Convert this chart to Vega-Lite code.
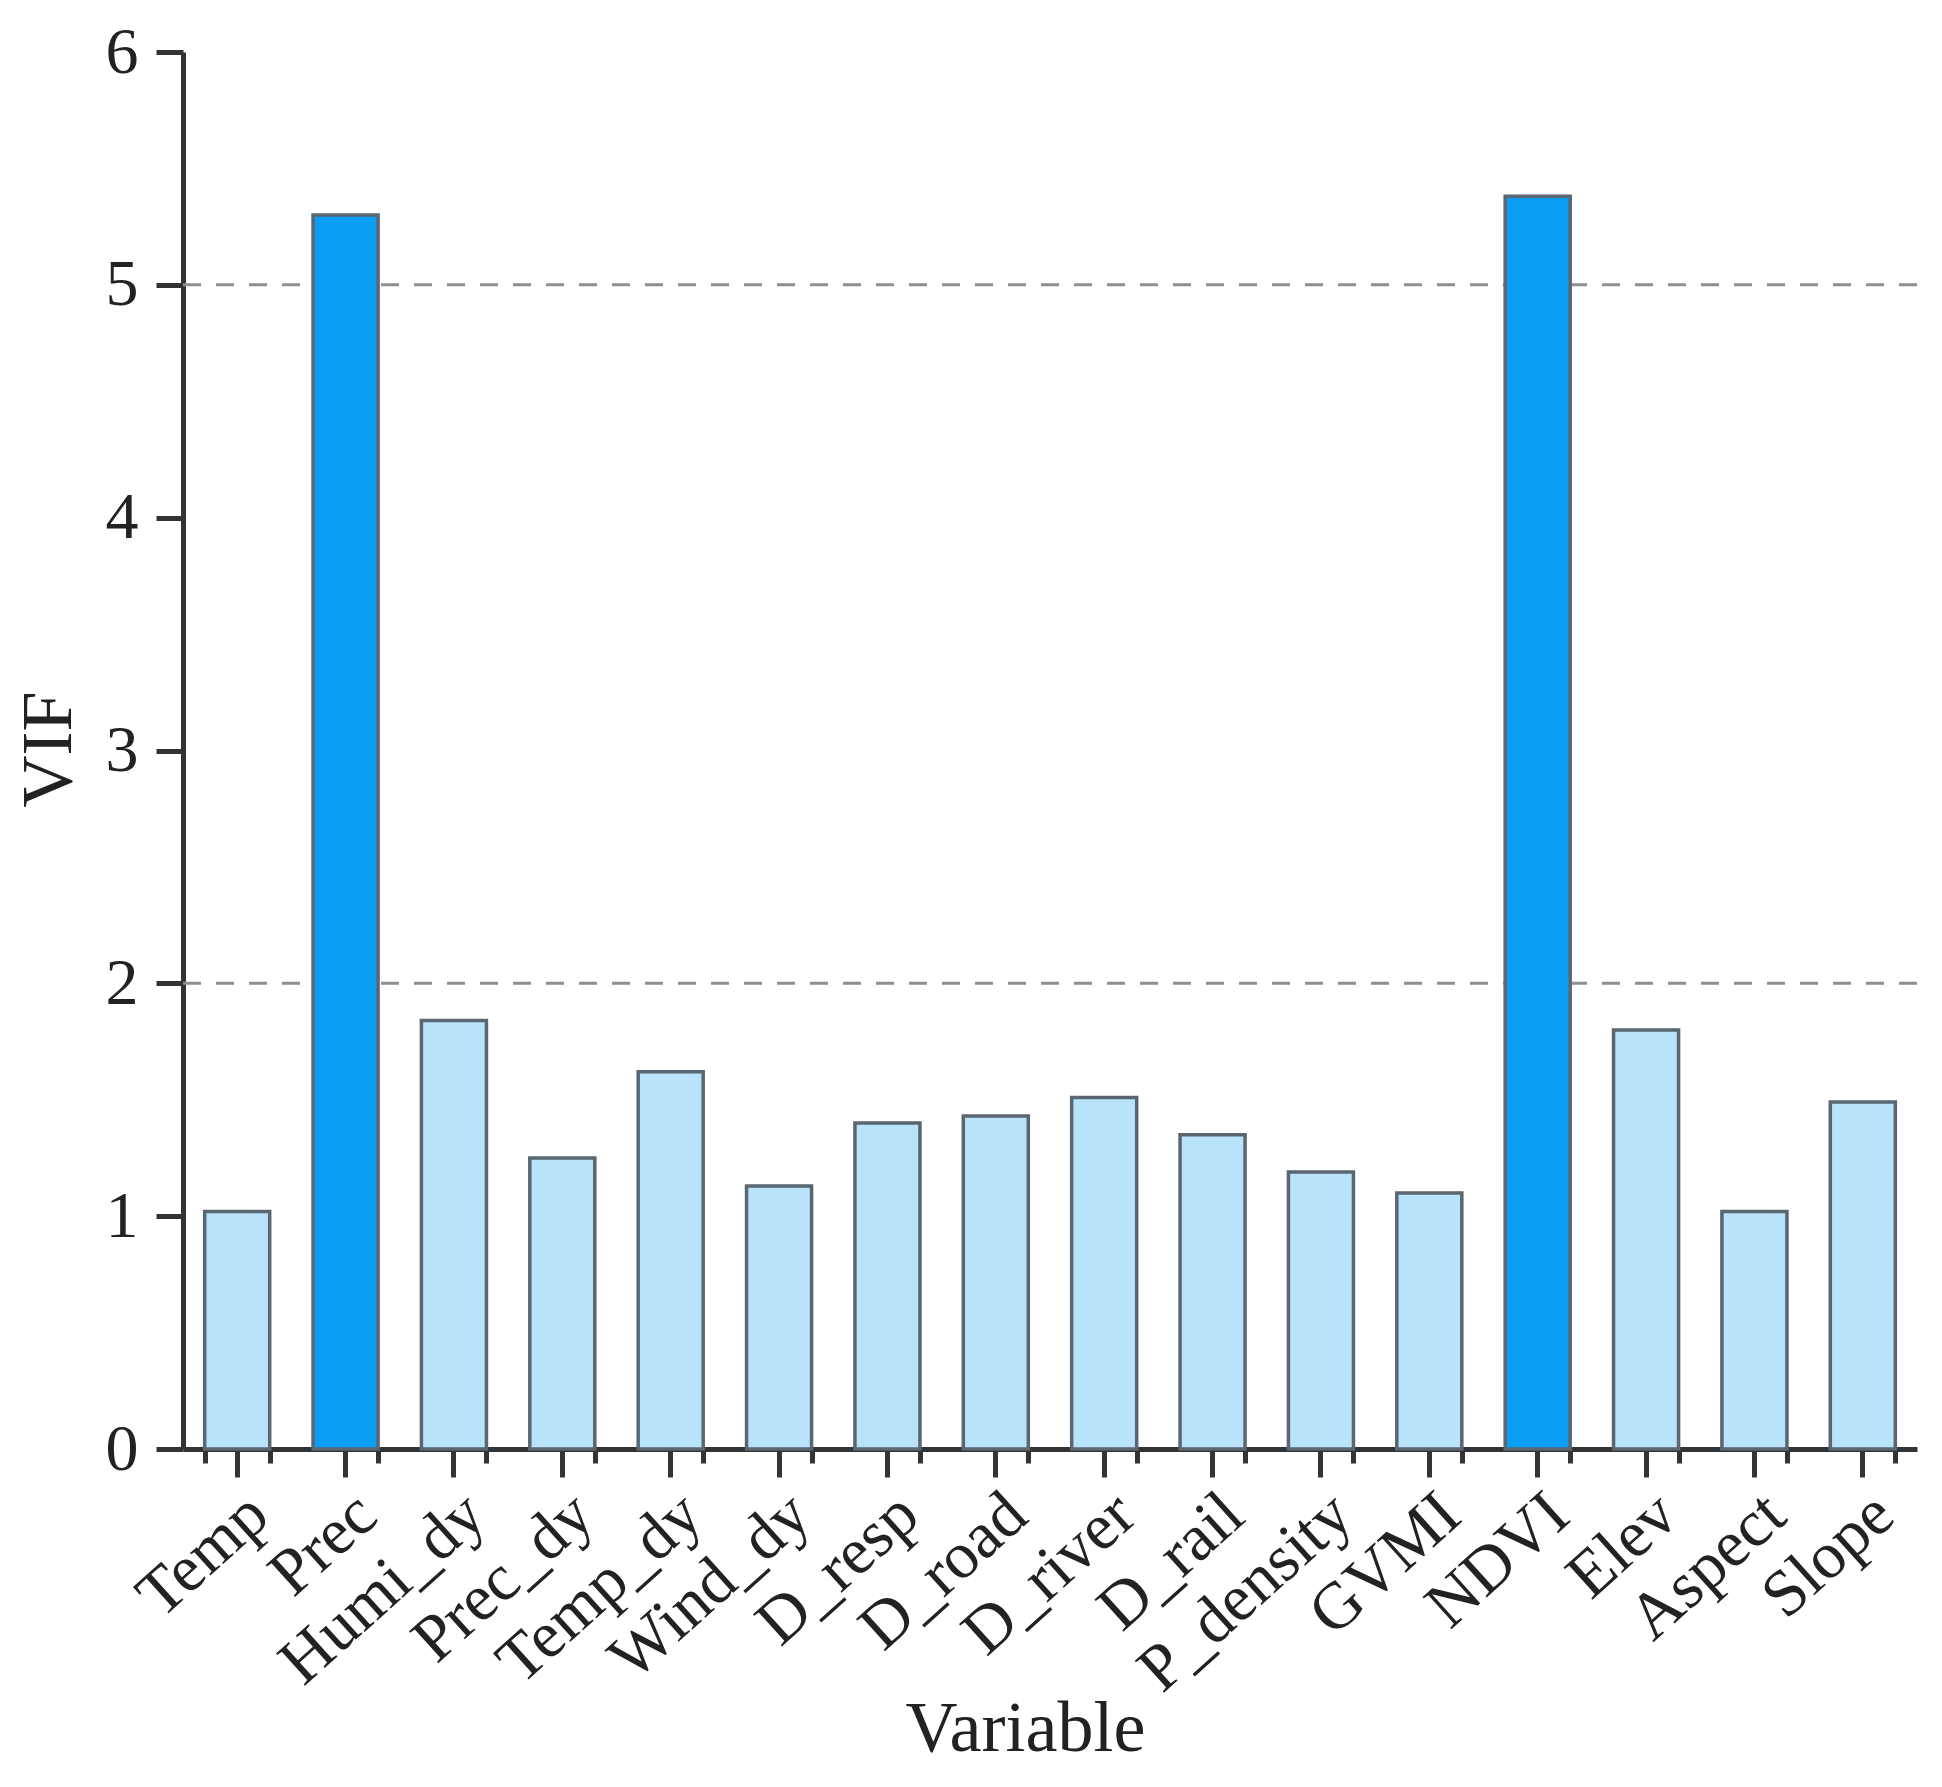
{
  "$schema": "https://vega.github.io/schema/vega-lite/v6.json",
  "width": 1734,
  "height": 1397,
  "autosize": "none",
  "padding": {"left": 183, "top": 52, "right": 25, "bottom": 338},
  "background": "white",
  "config": {
    "view": {"stroke": null},
    "font": "Liberation Serif",
    "axis": {"grid": false, "labelFont": "Liberation Serif", "titleFont": "Liberation Serif", "labelColor": "#222", "titleColor": "#222", "domainColor": "#333", "tickColor": "#333", "titleFontWeight": "normal"}
  },
  "datasets": {
    "vif": [
      {"Variable": "Temp", "VIF": 1.02},
      {"Variable": "Prec", "VIF": 5.30},
      {"Variable": "Humi_dy", "VIF": 1.84},
      {"Variable": "Prec_dy", "VIF": 1.25},
      {"Variable": "Temp_dy", "VIF": 1.62},
      {"Variable": "Wind_dy", "VIF": 1.13},
      {"Variable": "D_resp", "VIF": 1.40},
      {"Variable": "D_road", "VIF": 1.43},
      {"Variable": "D_river", "VIF": 1.51},
      {"Variable": "D_rail", "VIF": 1.35},
      {"Variable": "P_density", "VIF": 1.19},
      {"Variable": "GVMI", "VIF": 1.10},
      {"Variable": "NDVI", "VIF": 5.38},
      {"Variable": "Elev", "VIF": 1.80},
      {"Variable": "Aspect", "VIF": 1.02},
      {"Variable": "Slope", "VIF": 1.49}
    ],
    "thresholds": [{"t": 2}, {"t": 5}]
  },
  "resolve": {"axis": {"x": "independent", "y": "independent"}},
  "layer": [
    {
      "data": {"name": "thresholds"},
      "mark": {"type": "rule", "color": "#8f8f8f", "strokeWidth": 3, "strokeDash": [18, 15]},
      "encoding": {
        "y": {"field": "t", "type": "quantitative", "scale": {"domain": [0, 6], "nice": false}, "axis": null}
      }
    },
    {
      "data": {"name": "vif"},
      "mark": {"type": "bar", "stroke": "#5a6670", "strokeWidth": 3.5},
      "encoding": {
        "x": {
          "field": "Variable", "type": "nominal", "sort": null,
          "scale": {"paddingInner": 0.4, "paddingOuter": 0.2},
          "axis": {"orient": "bottom", "title": null, "labels": false, "domain": false, "tickBand": "extent", "tickSize": 14, "tickWidth": 5}
        },
        "y": {"field": "VIF", "type": "quantitative", "scale": {"domain": [0, 6], "nice": false}, "axis": null},
        "color": {"condition": {"test": "datum.VIF > 5", "value": "#0A9DF4"}, "value": "#B9E3FA"}
      }
    },
    {
      "data": {"name": "vif"},
      "mark": {"type": "bar", "opacity": 0},
      "encoding": {
        "x": {
          "field": "Variable", "type": "nominal", "sort": null,
          "scale": {"paddingInner": 0.4, "paddingOuter": 0.2},
          "axis": {"orient": "bottom", "title": "Variable", "titleFontSize": 72, "titleX": 842, "titleY": 301, "titleBaseline": "alphabetic", "titleAlign": "center", "labelFontSize": 66, "labelAngle": -42, "labelAlign": "right", "labelBaseline": "top", "labelPadding": 4, "labelLimit": 0, "domainWidth": 5, "tickSize": 28, "tickWidth": 5}
        },
        "y": {
          "field": "VIF", "type": "quantitative", "scale": {"domain": [0, 6], "nice": false},
          "axis": {
            "orient": "left", "title": "VIF", "titleFontSize": 72, "titleX": -135, "titleY": 697, "titleBaseline": "middle", "titleAlign": "center", "titleAngle": -90,
            "values": [0, 0.5, 1, 1.5, 2, 2.5, 3, 3.5, 4, 4.5, 5, 5.5, 6],
            "format": "d",
            "labelExpr": "datum.value % 1 === 0 ? datum.label : ''",
            "labelFontSize": 66, "labelPadding": 18,
            "domainWidth": 5, "tickWidth": 5,
            "tickSize": {"condition": {"test": "datum.value % 1 === 0", "value": 27}, "value": 14}
          }
        }
      }
    }
  ]
}
